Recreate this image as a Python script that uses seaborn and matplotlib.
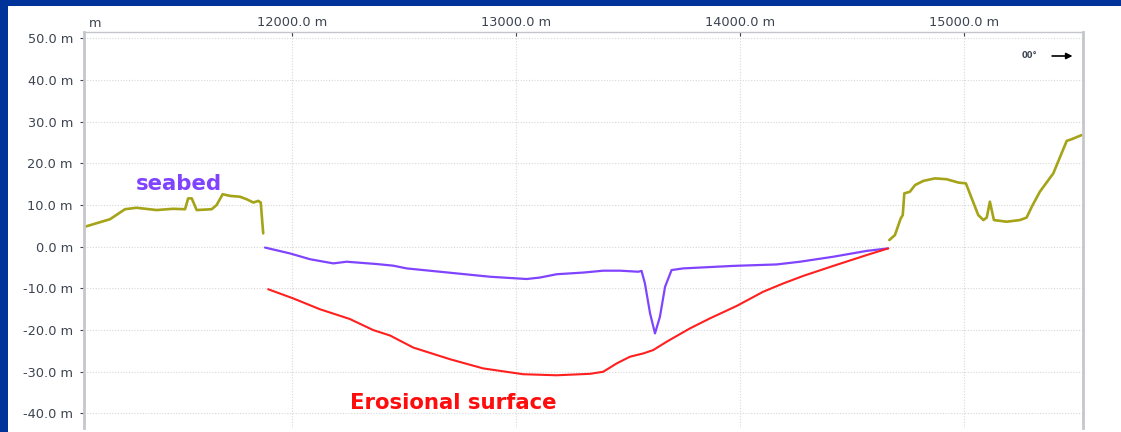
import numpy as np
import pandas as pd
import matplotlib
matplotlib.use("Agg")
import matplotlib.pyplot as plt
import seaborn as sns
from matplotlib.patches import Rectangle

sns.set_theme(style="white")
plt.rcParams["font.family"] = ["DejaVu Sans"]

# ── Dữ liệu ────────────────────────────────────────────────
# địa hình hai bên (olive)
bo_trai_x = [11077, 11189, 11256, 11308, 11397, 11470, 11524, 11538, 11554, 11576,
             11643, 11665, 11692, 11725, 11769, 11799, 11829, 11851, 11862, 11873]
bo_trai_y = [4.8, 6.6, 9.0, 9.35, 8.8, 9.1, 9.0, 11.6, 11.6, 8.8,
             9.0, 10.0, 12.6, 12.2, 12.0, 11.4, 10.6, 11.0, 10.6, 3.2]

bo_phai_x = [14668, 14693, 14719, 14728, 14735, 14760, 14783, 14820, 14872, 14924,
             14976, 15010, 15036, 15065, 15088, 15103, 15117, 15135, 15192, 15251,
             15281, 15304, 15340, 15400, 15460, 15482, 15527]
bo_phai_y = [1.6, 2.8, 6.8, 7.6, 12.8, 13.2, 14.8, 15.8, 16.4, 16.2,
             15.4, 15.2, 11.6, 7.6, 6.4, 7.0, 10.8, 6.4, 6.0, 6.4,
             7.0, 9.6, 13.2, 17.6, 25.4, 25.8, 26.8]

# đáy biển (seabed)
seabed_x = [11881, 11992, 12082, 12186, 12245, 12379, 12454, 12513, 12662, 12885,
            13049, 13108, 13183, 13302, 13391, 13466, 13547, 13562, 13577, 13600,
            13622, 13644, 13667, 13696, 13748, 13971, 14165, 14269, 14418, 14567, 14663]
seabed_y = [-0.2, -1.6, -3.0, -4.0, -3.6, -4.15, -4.55, -5.2, -6.0, -7.2,
            -7.75, -7.4, -6.6, -6.2, -5.75, -5.75, -6.0, -5.8, -8.8, -16.0,
            -20.8, -16.8, -9.6, -5.6, -5.2, -4.6, -4.25, -3.6, -2.4, -1.0, -0.4]

# mặt bào mòn (erosional surface)
erosion_x = [11895, 12007, 12126, 12260, 12305, 12364, 12439, 12543, 12707, 12855,
             13034, 13183, 13332, 13391, 13451, 13510, 13570, 13614, 13674, 13778,
             13867, 13987, 14105, 14195, 14284, 14418, 14567, 14663]
erosion_y = [-10.2, -12.4, -15.0, -17.35, -18.5, -20.0, -21.3, -24.2, -27.0, -29.2,
             -30.6, -30.85, -30.5, -30.0, -28.0, -26.4, -25.6, -24.8, -22.8, -19.6,
             -17.2, -14.2, -10.8, -8.8, -7.0, -4.6, -2.0, -0.4]

x_ticks = [12000, 13000, 14000, 15000]
y_ticks = [50, 40, 30, 20, 10, 0, -10, -20, -30, -40]

OLIVE = "#a5a318"
PURPLE = "#8044ff"
RED = "#ff1f1f"
BLUE = "#00339a"
TXT = "#3c4450"

fig = plt.figure(figsize=(11.21, 4.32), dpi=100)
fig.patch.set_facecolor("white")
# khung xanh trên và trái
fig.add_artist(Rectangle((0, 1 - 6 / 432), 1, 6 / 432, transform=fig.transFigure,
                         facecolor=BLUE, edgecolor="none"))
fig.add_artist(Rectangle((0, 0), 8 / 1121, 1, transform=fig.transFigure,
                         facecolor=BLUE, edgecolor="none"))

ax = fig.add_axes([84 / 1121, 4 / 432, 999.3 / 1121, 396.3 / 432])

for xs, ys, c, lw in [(bo_trai_x, bo_trai_y, OLIVE, 1.9),
                      (bo_phai_x, bo_phai_y, OLIVE, 1.9),
                      (seabed_x, seabed_y, PURPLE, 1.6),
                      (erosion_x, erosion_y, RED, 1.5)]:
    df = pd.DataFrame({"x": xs, "y": ys})
    sns.lineplot(data=df, x="x", y="y", ax=ax, color=c, linewidth=lw,
                 estimator=None, sort=False)

ax.set_xlim(11073, 15534)
ax.set_ylim(-43.5, 51.6)

ax.set_xticks(x_ticks)
ax.set_xticklabels([f"{v:.1f} m" for v in x_ticks])
ax.set_yticks(y_ticks)
ax.set_yticklabels([f"{v:.1f} m" for v in y_ticks])
ax.xaxis.tick_top()
ax.tick_params(axis="x", direction="in", length=3, width=0.8, colors=TXT,
               labelsize=9.3, pad=2, top=True, bottom=False)
ax.tick_params(axis="y", direction="out", length=3, width=0.8, colors=TXT,
               labelsize=9.3, pad=5, left=True)
ax.set_xlabel(""); ax.set_ylabel("")

ax.grid(True, linestyle=(0, (1, 1.5)), color="#d8d8d8", linewidth=0.8)

for s in ["left", "right"]:
    ax.spines[s].set_color("#c4c6cc")
    ax.spines[s].set_linewidth(2)
ax.spines["top"].set_color("#c4c6cc")
ax.spines["top"].set_linewidth(1)
ax.spines["bottom"].set_visible(False)

# nhãn bị cắt ở cạnh trái
ax.text(11122, 1.005, "m", transform=ax.get_xaxis_transform(), ha="center",
        va="bottom", fontsize=9.3, color=TXT)

ax.text(11497, 15, "seabed", color=PURPLE, fontsize=15.3, fontweight="bold",
        ha="center", va="center")
ax.text(12720, -37.4, "Erosional surface", color="#ff0d0d", fontsize=15.3,
        fontweight="bold", ha="center", va="center")

ax.text(0.9457, 0.9387, "00°", transform=ax.transAxes, fontsize=6,
        fontweight="bold", color=TXT, ha="center", va="center")
ax.annotate("", xy=(0.992, 0.9387), xytext=(0.966, 0.9387),
            xycoords="axes fraction",
            arrowprops=dict(arrowstyle="-|>", color="black", lw=1.2,
                            mutation_scale=9))

plt.savefig("out.png", dpi=100)
